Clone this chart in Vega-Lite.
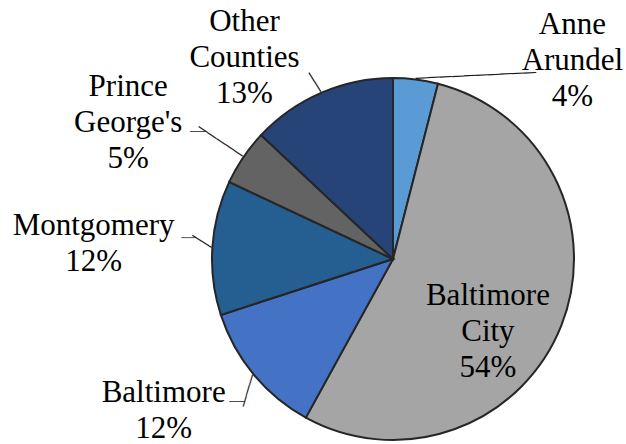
{
  "$schema": "https://vega.github.io/schema/vega-lite/v6.json",
  "width": 362,
  "height": 362,
  "autosize": {"type": "none"},
  "padding": {"left": 212, "top": 78, "right": 52, "bottom": 4},
  "background": "white",
  "config": {"view": {"stroke": null}, "text": {"font": "Liberation Serif"}},
  "data": {
    "values": [
      {"county": "Anne Arundel", "share": 4, "rank": 1, "label": "Anne\nArundel\n4%"},
      {"county": "Baltimore City", "share": 54, "rank": 2, "label": "Baltimore\nCity\n54%"},
      {"county": "Baltimore", "share": 12, "rank": 3, "label": "Baltimore\n12%"},
      {"county": "Montgomery", "share": 12, "rank": 4, "label": "Montgomery\n12%"},
      {"county": "Prince George's", "share": 5, "rank": 5, "label": "Prince\nGeorge's\n5%"},
      {"county": "Other Counties", "share": 13, "rank": 6, "label": "Other\nCounties\n13%"}
    ]
  },
  "encoding": {
    "theta": {"field": "share", "type": "quantitative", "stack": true},
    "order": {"field": "rank", "type": "quantitative"}
  },
  "layer": [
    {
      "mark": {"type": "arc", "stroke": "#262626", "strokeWidth": 2},
      "encoding": {
        "color": {
          "field": "county",
          "type": "nominal",
          "scale": {
            "domain": ["Anne Arundel", "Baltimore City", "Baltimore", "Montgomery", "Prince George's", "Other Counties"],
            "range": ["#5B9BD5", "#A5A5A5", "#4472C4", "#255E91", "#636363", "#264478"]
          },
          "legend": null
        }
      }
    },
    {
      "mark": {"type": "text", "radius": 219, "dx": 152, "dy": -17, "fontSize": 31, "lineHeight": 36, "lineBreak": "\n", "align": "center", "baseline": "middle", "color": "black"},
      "encoding": {"text": {"condition": {"test": "datum.county === 'Anne Arundel'", "field": "label"}, "value": ""}}
    },
    {
      "mark": {"type": "text", "radius": 115, "dx": -12, "dy": -5, "fontSize": 31, "lineHeight": 36, "lineBreak": "\n", "align": "center", "baseline": "middle", "color": "black"},
      "encoding": {"text": {"condition": {"test": "datum.county === 'Baltimore City'", "field": "label"}, "value": ""}}
    },
    {
      "mark": {"type": "text", "radius": 273, "dx": -19, "dy": -40, "fontSize": 31, "lineHeight": 36, "lineBreak": "\n", "align": "center", "baseline": "middle", "color": "black"},
      "encoding": {"text": {"condition": {"test": "datum.county === 'Baltimore'", "field": "label"}, "value": ""}}
    },
    {
      "mark": {"type": "text", "radius": 300, "dx": 0, "dy": -14, "fontSize": 31, "lineHeight": 36, "lineBreak": "\n", "align": "center", "baseline": "middle", "color": "black"},
      "encoding": {"text": {"condition": {"test": "datum.county === 'Montgomery'", "field": "label"}, "value": ""}}
    },
    {
      "mark": {"type": "text", "radius": 296, "dx": -20, "dy": -6, "fontSize": 31, "lineHeight": 36, "lineBreak": "\n", "align": "center", "baseline": "middle", "color": "black"},
      "encoding": {"text": {"condition": {"test": "datum.county === \"Prince George's\"", "field": "label"}, "value": ""}}
    },
    {
      "mark": {"type": "text", "radius": 243, "dx": -52, "dy": -14, "fontSize": 31, "lineHeight": 36, "lineBreak": "\n", "align": "center", "baseline": "middle", "color": "black"},
      "encoding": {"text": {"condition": {"test": "datum.county === 'Other Counties'", "field": "label"}, "value": ""}}
    },
    {
      "mark": {"type": "text", "radius": 182, "angle": 357.2, "align": "left", "baseline": "middle", "fontSize": 17, "color": "#1a1a1a"},
      "encoding": {"text": {"condition": {"test": "datum.county === 'Anne Arundel'", "value": "──────────"}, "value": ""}}
    },
    {
      "mark": {"type": "text", "radius": 182, "angle": 238, "align": "left", "baseline": "middle", "fontSize": 16, "color": "#1a1a1a"},
      "encoding": {"text": {"condition": {"test": "datum.county === 'Other Counties'", "value": "──"}, "value": ""}}
    },
    {
      "mark": {"type": "text", "radius": 182, "angle": 214, "align": "left", "baseline": "middle", "fontSize": 15, "color": "#1a1a1a"},
      "encoding": {"text": {"condition": {"test": "datum.county === \"Prince George's\"", "value": "─────"}, "value": ""}}
    },
    {
      "mark": {"type": "text", "radius": 182, "dx": -37, "dy": -25, "align": "right", "baseline": "middle", "fontSize": 11, "color": "#1a1a1a"},
      "encoding": {"text": {"condition": {"test": "datum.county === \"Prince George's\"", "value": "──"}, "value": ""}}
    },
    {
      "mark": {"type": "text", "radius": 182, "angle": 212, "align": "left", "baseline": "middle", "fontSize": 16, "color": "#1a1a1a"},
      "encoding": {"text": {"condition": {"test": "datum.county === 'Montgomery'", "value": "──"}, "value": ""}}
    },
    {
      "mark": {"type": "text", "radius": 182, "dx": -16, "dy": -10, "align": "right", "baseline": "middle", "fontSize": 10, "color": "#1a1a1a"},
      "encoding": {"text": {"condition": {"test": "datum.county === 'Montgomery'", "value": "──"}, "value": ""}}
    },
    {
      "mark": {"type": "text", "radius": 182, "angle": 106.5, "align": "left", "baseline": "middle", "fontSize": 15.5, "color": "#1a1a1a"},
      "encoding": {"text": {"condition": {"test": "datum.county === 'Baltimore'", "value": "───"}, "value": ""}}
    },
    {
      "mark": {"type": "text", "radius": 182, "dx": -8, "dy": 27, "align": "right", "baseline": "middle", "fontSize": 11, "color": "#1a1a1a"},
      "encoding": {"text": {"condition": {"test": "datum.county === 'Baltimore'", "value": "──"}, "value": ""}}
    }
  ]
}
